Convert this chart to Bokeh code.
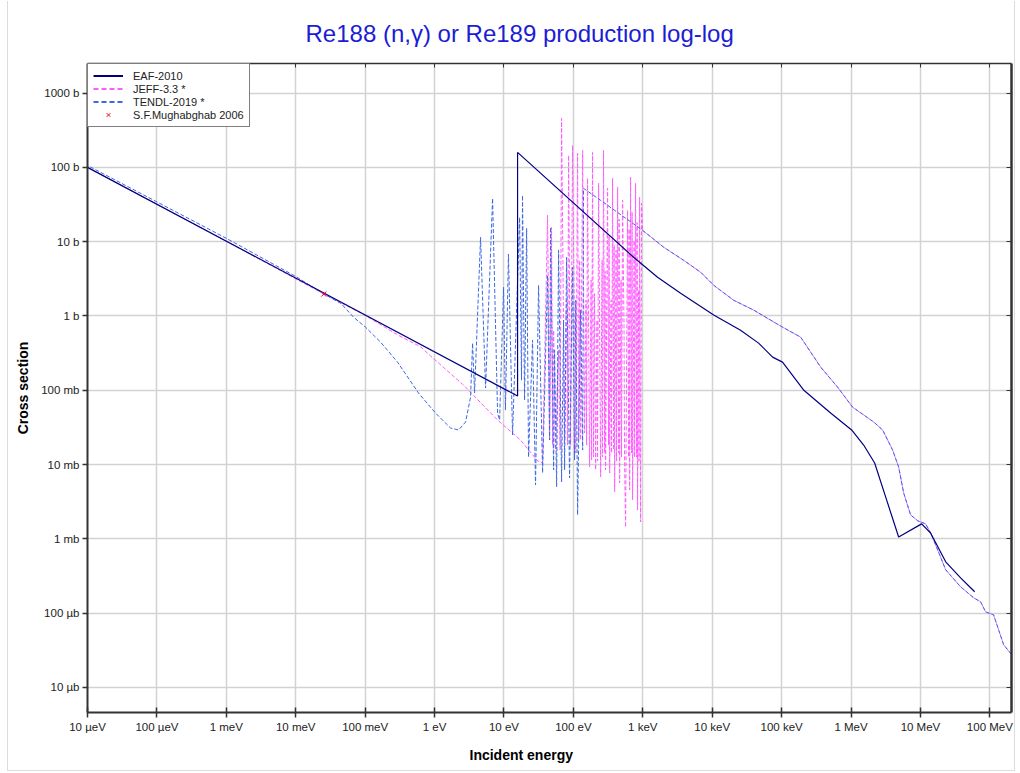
import math
from bokeh.plotting import figure
from bokeh.models import (LogAxis, FixedTicker, CustomJSTickFormatter, Legend,
                          LegendItem, Title)
from bokeh.embed import file_html
from bokeh.resources import INLINE

# ---------------- axis ticks ----------------
x_tick_values = [1e-5, 1e-4, 1e-3, 1e-2, 1e-1, 1e0, 1e1, 1e2, 1e3, 1e4, 1e5, 1e6, 1e7, 1e8]
x_tick_labels = ["10 µeV", "100 µeV", "1 meV", "10 meV", "100 meV", "1 eV", "10 eV",
                 "100 eV", "1 keV", "10 keV", "100 keV", "1 MeV", "10 MeV", "100 MeV"]
y_tick_values = [1e-5, 1e-4, 1e-3, 1e-2, 1e-1, 1e0, 1e1, 1e2, 1e3]
y_tick_labels = ["10 µb", "100 µb", "1 mb", "10 mb", "100 mb", "1 b", "10 b", "100 b", "1000 b"]

# ---------------- EAF-2010 (eV, barn) ----------------
eaf_energy = [1e-5, 15.7, 15.7, 737, 1633, 3508, 10500, 25600, 46600, 74200, 103000,
              207000, 508000, 1.02e6, 1.52e6, 2.19e6, 3.15e6, 4.85e6, 1.04e7, 1.40e7,
              2.31e7, 3.79e7, 6.04e7]
eaf_xs = [100, 0.0836, 159, 6.17, 3.32, 2.02, 1.03, 0.644, 0.431, 0.279, 0.239,
          0.101, 0.0494, 0.0292, 0.0183, 0.0105, 0.00367, 0.00106, 0.00159, 0.00120,
          0.000491, 0.000299, 0.000194]

# ---------------- fast-energy curve shared by JEFF-3.3 and TENDL-2019 ----------------
fast_energy = [140, 247, 994, 2000, 3870, 6810, 10500, 20300, 39500, 103000, 188000,
               365000, 641000, 1.05e6, 2.12e6, 2.85e6, 3.97e6, 4.85e6, 5.73e6, 7.22e6,
               9.12e6, 1.19e7, 1.40e7, 1.77e7, 2.31e7, 3.79e7, 5.85e7, 7.36e7, 8.69e7,
               1.13e8, 1.58e8, 2.06e8]
fast_xs = [52.2, 36.0, 14.2, 8.41, 5.62, 3.88, 2.59, 1.63, 1.20, 0.707, 0.519,
           0.205, 0.110, 0.0594, 0.0374, 0.0292, 0.0157, 0.00929, 0.00415, 0.0021,
           0.00175, 0.00159, 0.00120, 0.000711, 0.000383, 0.000226, 0.000161, 0.000142,
           0.000104, 0.000095, 0.0000376, 0.0000276]

# ---------------- JEFF-3.3 (thermal + resolved resonances) ----------------
jeff_low_energy = [1e-5, 1e-3, 0.0253, 0.1, 0.3, 0.628, 0.875, 2.62, 8.09, 17.3, 30.5, 36.0,
                   42.5, 45.4, 48.5, 50.1, 51.9, 55.4, 61.2, 64.3, 67.6, 74.7, 79.8, 82.4,
                   85.3, 91.2, 97.3, 108, 115, 119, 123, 127, 136, 145, 152, 155, 160, 171,
                   180, 183, 189, 195, 202, 209, 219, 223, 231, 247, 259, 263, 272, 282,
                   286, 291, 311, 321, 327, 333, 349, 355, 367, 380, 386, 393, 412, 419,
                   434, 448, 456, 463, 486, 494, 512, 537, 546, 565, 604, 625, 635, 646,
                   667, 689, 701, 713, 750, 762, 787, 814, 828, 841, 869, 883, 900, 929, 960]
jeff_low_xs = [100, 10.1, 1.98, 1.02, 0.55, 0.385, 0.29, 0.117, 0.0397, 0.0214, 0.0112, 0.0105,
               22.6, 0.0214, 15.6, 0.0183, 0.644, 0.0157, 0.347, 0.0157, 456, 0.0214, 1.63,
               0.0183, 145, 0.0183, 198, 0.0143, 154, 0.0214, 5.62, 0.0214, 169, 0.0266,
               1.63, 0.0183, 71.2, 0.00929, 3.03, 0.0115, 159, 0.0126, 2.0, 0.00846, 0.879,
               0.0112, 60.9, 0.00681, 5.62, 0.0126, 169, 0.0143, 4.0, 0.00846, 52.2, 0.0183,
               12.0, 0.00771, 1.63, 0.0143, 71.2, 0.0157, 9.0, 0.00429, 7.66, 0.0112, 53.9,
               0.0143, 20.0, 0.00566, 3.03, 0.0126, 36.0, 0.644, 0.0115, 0.00143, 26.4,
               0.0126, 15.0, 0.00456, 73.4, 0.0143, 25.0, 0.00334, 10.4, 0.0126, 60.9,
               0.0126, 18.0, 0.00245, 2.22, 0.0112, 39.5, 0.00169, 32.8]

# ---------------- TENDL-2019 (thermal + resolved resonances) ----------------
tendl_low_energy = [1e-5, 1e-3, 0.01, 0.0253, 0.045, 0.068, 0.101, 0.167, 0.293, 0.588, 1.03,
                    1.70, 2.22, 2.80, 3.30, 3.53, 3.77, 4.60, 5.43, 6.85, 8.09, 8.65, 9.87,
                    10.5, 11.6, 13.3, 16.8, 17.9, 18.5, 19.8, 21.2, 22.6, 25.8, 28.5, 31.5,
                    36.0, 42.5, 45.4, 46.9, 51.9, 53.6, 57.3, 61.2, 67.6, 72.2, 74.7, 79.8,
                    88.1, 97.3, 104, 108, 115, 127, 136]
tendl_low_xs = [106, 11.1, 3.4, 1.98, 1.47, 0.963, 0.707, 0.444, 0.239, 0.0917, 0.0494,
                0.031, 0.0292, 0.0374, 0.081, 0.431, 0.0917, 11.5, 0.107, 38.3, 0.0494, 0.0397,
                2.44, 0.0542, 6.77, 0.0250, 21.3, 0.137, 42.0, 0.0738, 15.1, 0.0126, 0.473,
                0.00532, 2.59, 0.00771, 3.53, 0.0214, 15.6, 0.00846, 0.347, 0.00500, 7.66,
                0.00583, 0.879, 0.00846, 6.17, 0.00661, 4.53, 0.0115, 1.63, 0.00210, 1.20,
                0.0157]

# ---------------- S.F. Mughabghab 2006 thermal value ----------------
mugh_energy = [0.0253]
mugh_xs = [1.97]

jeff_energy = jeff_low_energy + fast_energy[2:]
jeff_xs = jeff_low_xs + fast_xs[2:]
tendl_energy = tendl_low_energy + fast_energy
tendl_xs = tendl_low_xs + fast_xs

FONT = "Liberation Sans"
EAF_C, JEFF_C, TENDL_C = "#000080", "#ff5cff", "#3d68e2"

p = figure(width=1008, height=770, x_axis_type="log", y_axis_type="log",
           x_range=(1e-5, 2.05e8), y_range=(4.6e-6, 2500),
           output_backend="svg", toolbar_location=None,
           min_border_left=79, min_border_right=5, min_border_top=0, min_border_bottom=58)
p.background_fill_color = "white"
p.border_fill_color = "white"
p.outline_line_color = None
p.styles = {"margin-left": "7px", "margin-top": "1px",
            "border-left": "1px solid #dcdcdc", "border-right": "1px solid #dcdcdc",
            "border-bottom": "1px solid #dcdcdc"}

p.title.text = "Re188 (n,γ) or Re189 production log-log"
p.title.text_font = FONT
p.title.text_font_size = "24px"
p.title.text_font_style = "normal"
p.title.text_color = "#1c1cd6"
p.title.align = "left"
p.title.offset = 218
p.title.standoff = 33
p.title.text_line_height = 1.0

fmt_code = """
const lt = Math.log10(tick);
for (let i = 0; i < vals.length; i++) {
  if (Math.abs(Math.log10(vals[i]) - lt) < 1e-6) { return labels[i]; }
}
return "";
"""
xfmt = CustomJSTickFormatter(args=dict(vals=x_tick_values, labels=x_tick_labels), code=fmt_code)
yfmt = CustomJSTickFormatter(args=dict(vals=y_tick_values, labels=y_tick_labels), code=fmt_code)
blank = CustomJSTickFormatter(code="return '';")

for ax, tv, fm in ((p.xaxis[0], x_tick_values, xfmt), (p.yaxis[0], y_tick_values, yfmt)):
    ax.ticker = FixedTicker(ticks=tv)
    ax.formatter = fm
    ax.major_label_text_font = FONT
    ax.major_label_text_font_size = "11.5px"
    ax.major_label_text_color = "#222222"
    ax.axis_line_color = "#333333"
    ax.axis_line_width = 2
    ax.major_tick_line_color = "#333333"
    ax.major_tick_line_width = 1.5
    ax.major_tick_out = 5
    ax.minor_tick_line_color = None
    ax.major_label_standoff = 3
p.xaxis[0].major_tick_in = 5
p.yaxis[0].major_tick_in = 0
p.yaxis[0].axis_label = "Cross section"
p.yaxis[0].axis_label_text_font = FONT
p.yaxis[0].axis_label_text_font_size = "14px"
p.yaxis[0].axis_label_text_font_style = "bold"
p.yaxis[0].axis_label_text_color = "black"
p.yaxis[0].axis_label_standoff = 7

# x-axis title, placed like the reference (left of the frame centre)
xlab = Title(text="Incident energy", text_font=FONT, text_font_size="14px",
             text_font_style="bold", text_color="black", align="left", offset=382,
             standoff=18)
p.add_layout(xlab, "below")

top_ax = LogAxis(ticker=FixedTicker(ticks=x_tick_values), formatter=blank,
                 major_tick_in=4, major_tick_out=0, minor_tick_line_color=None,
                 axis_line_color="#333333", axis_line_width=1.5,
                 major_tick_line_color="#333333", major_label_text_font_size="0px",
                 major_label_standoff=0)
right_ax = LogAxis(ticker=FixedTicker(ticks=y_tick_values), formatter=blank,
                   major_tick_in=5, major_tick_out=0, minor_tick_line_color=None,
                   axis_line_color="#333333", axis_line_width=2.5,
                   major_tick_line_color="#333333", major_label_text_font_size="0px",
                   major_label_standoff=0)
p.add_layout(top_ax, "above")
p.add_layout(right_ax, "right")

for g in (p.xgrid[0], p.ygrid[0]):
    g.grid_line_color = "#d2d2d2"
    g.grid_line_width = 1.5
p.xgrid[0].ticker = FixedTicker(ticks=x_tick_values)
p.ygrid[0].ticker = FixedTicker(ticks=y_tick_values)

r_jeff = p.line(jeff_energy, jeff_xs, line_color=JEFF_C, line_width=1, line_dash="4 2")
r_tendl = p.line(tendl_energy, tendl_xs, line_color=TENDL_C, line_width=1, line_dash="4 2",
                 line_dash_offset=3)
r_eaf = p.line(eaf_energy, eaf_xs, line_color=EAF_C, line_width=1.2)
r_mugh = p.scatter(mugh_energy, mugh_xs, marker="x", size=7, line_color="red", line_width=1)

# legend-only proxies (a single NaN row: nothing drawn in the plot)
nan = [math.nan]
l_eaf = p.line(nan, nan, line_color=EAF_C, line_width=2)
l_jeff = p.line(nan, nan, line_color=JEFF_C, line_width=2, line_dash="5 3")
l_tendl = p.line(nan, nan, line_color=TENDL_C, line_width=2, line_dash="5 3")
l_mugh = p.scatter(nan, nan, marker="x", size=10, line_color="red", line_width=1)

legend = Legend(items=[
    LegendItem(label="EAF-2010", renderers=[l_eaf]),
    LegendItem(label="JEFF-3.3 *", renderers=[l_jeff]),
    LegendItem(label="TENDL-2019 *", renderers=[l_tendl]),
    LegendItem(label="S.F.Mughabghab 2006", renderers=[l_mugh]),
], location="top_left")
legend.margin = 0
legend.padding = 5
legend.spacing = 0
legend.glyph_height = 13
legend.label_height = 13
legend.glyph_width = 30
legend.label_standoff = 10
legend.label_text_font = FONT
legend.label_text_font_size = "11px"
legend.label_text_color = "#222222"
legend.border_line_color = "black"
legend.border_line_width = 1
legend.background_fill_color = "white"
legend.background_fill_alpha = 1
p.add_layout(legend)

open("out.html", "w").write(file_html(p, INLINE))
